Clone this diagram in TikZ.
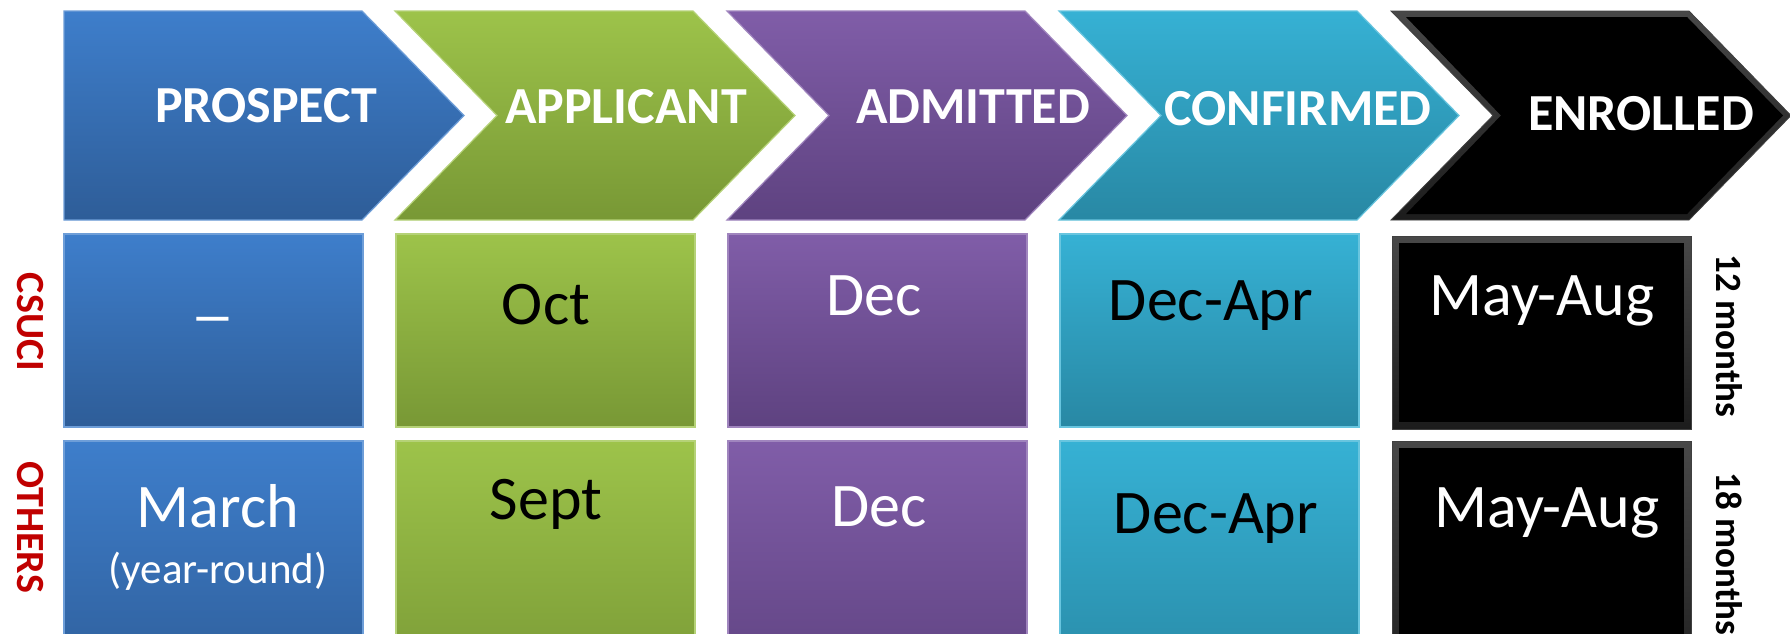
\documentclass[tikz,border=0pt]{standalone}
\usepackage{fontspec}
\setmainfont{Carlito}
\definecolor{blueT}{RGB}{62,126,203}
\definecolor{blueB}{RGB}{46,93,152}
\definecolor{greenT}{RGB}{157,195,74}
\definecolor{greenB}{RGB}{120,152,53}
\definecolor{purT}{RGB}{128,93,168}
\definecolor{purB}{RGB}{94,66,128}
\definecolor{cyT}{RGB}{54,177,212}
\definecolor{cyB}{RGB}{40,136,164}
\definecolor{lblred}{RGB}{192,0,0}
\definecolor{bevT}{RGB}{72,72,72}
\definecolor{bevB}{RGB}{28,28,28}
\def\ct{11}\def\cb{220}\def\cm{115.5}
\def\chevA#1{({#1},\ct) -- ({#1+298},\ct) -- ({#1+400},\cm) -- ({#1+298},\cb) -- ({#1},\cb) -- cycle}
\def\chevB#1{({#1},\ct) -- ({#1+298},\ct) -- ({#1+400},\cm) -- ({#1+298},\cb) -- ({#1},\cb) -- ({#1+102},\cm) -- cycle}
\def\chevBin#1{({#1+15},\ct+6) -- ({#1+296},\ct+6) -- ({#1+392},\cm) -- ({#1+296},\cb-6) -- ({#1+15},\cb-6) -- ({#1+110},\cm) -- cycle}
\begin{document}
\begin{tikzpicture}[x=1pt,y=-1pt,
  sblue/.style={top color=blueT, bottom color=blueB, draw=blueT!75!white, line width=1.2pt},
  sgreen/.style={top color=greenT, bottom color=greenB, draw=greenT!75!white, line width=1.2pt},
  spur/.style={top color=purT, bottom color=purB, draw=purT!75!white, line width=1.2pt},
  scy/.style={top color=cyT, bottom color=cyB, draw=cyT!75!white, line width=1.2pt},
  sbev/.style={top color=bevT, bottom color=bevB, draw=black!75, line width=0.8pt},
  hdr/.style={text=white, font=\bfseries\fontsize{52}{60}\selectfont, anchor=base, inner sep=0pt},
  cell/.style={font=\fontsize{62}{70}\selectfont, anchor=base, inner sep=0pt},
  side/.style={text=lblred, font=\bfseries\fontsize{40}{48}\selectfont, rotate=-90, inner sep=0pt},
  dur/.style={text=black, font=\bfseries\fontsize{37}{44}\selectfont, rotate=-90, inner sep=0pt}]
\useasboundingbox (0,0) rectangle (1790,633);
\fill[white] (0,0) rectangle (1790,633);
\clip (0,0) rectangle (1790,633);
% header chevrons
\path[sblue] \chevA{64};
\path[sgreen] \chevB{395};
\path[spur] \chevB{727};
\path[scy] \chevB{1059};
\path[sbev] \chevB{1391};
\fill[black] \chevBin{1391};
% row boxes
\path[sblue] (64,234) rectangle (363,427);
\path[sgreen] (396,234) rectangle (695,427);
\path[spur] (728,234) rectangle (1027,427);
\path[scy] (1060,234) rectangle (1359,427);
\path[sbev] (1392,236) rectangle (1691,429);
\fill[black] (1399,243) rectangle (1684,422);
\path[sblue] (64,441) rectangle (363,700);
\path[sgreen] (396,441) rectangle (695,700);
\path[spur] (728,441) rectangle (1027,700);
\path[scy] (1060,441) rectangle (1359,700);
\path[sbev] (1392,441) rectangle (1691,700);
\fill[black] (1399,448) rectangle (1684,700);
% header texts
\node[hdr] (h1) at (266,122) {PROSPECT};
\node[hdr] (h2) at (626,123) {APPLICANT};
\node[hdr] (h3) at (973,123) {ADMITTED};
\node[hdr] (h4) at (1298,125) {CONFIRMED};
\node[hdr] (h5) at (1641,130) {ENROLLED};
% row 2
\node[cell, text=white] (a1) at (213,336) {\scalebox{1.45}[1]{–}};
\node[cell, text=black] (a2) at (546,324) {Oct};
\node[cell, text=white] (a3) at (874,315) {Dec};
\node[cell, text=black] (a4) at (1211,320) {Dec-Apr};
\node[cell, text=white] (a5) at (1542,315) {May-Aug};
% row 3
\node[cell, text=white] (b1) at (218,527) {March};
\node[cell, text=white, font=\fontsize{43}{50}\selectfont] (b1s) at (218,583) {(year-round)};
\node[cell, text=black] (b2) at (546,519) {Sept};
\node[cell, text=white] (b3) at (879,526) {Dec};
\node[cell, text=black] (b4) at (1216,533) {Dec-Apr};
\node[cell, text=white] (b5) at (1547,527) {May-Aug};
% side labels
\node[side] (l1) at (30,322) {CSUCI};
\node[side] (l2) at (30,527) {OTHERS};
\node[dur] (d1) at (1729,336) {12 months};
\node[dur] (d2) at (1729,554) {18 months};
\end{tikzpicture}
\end{document}
